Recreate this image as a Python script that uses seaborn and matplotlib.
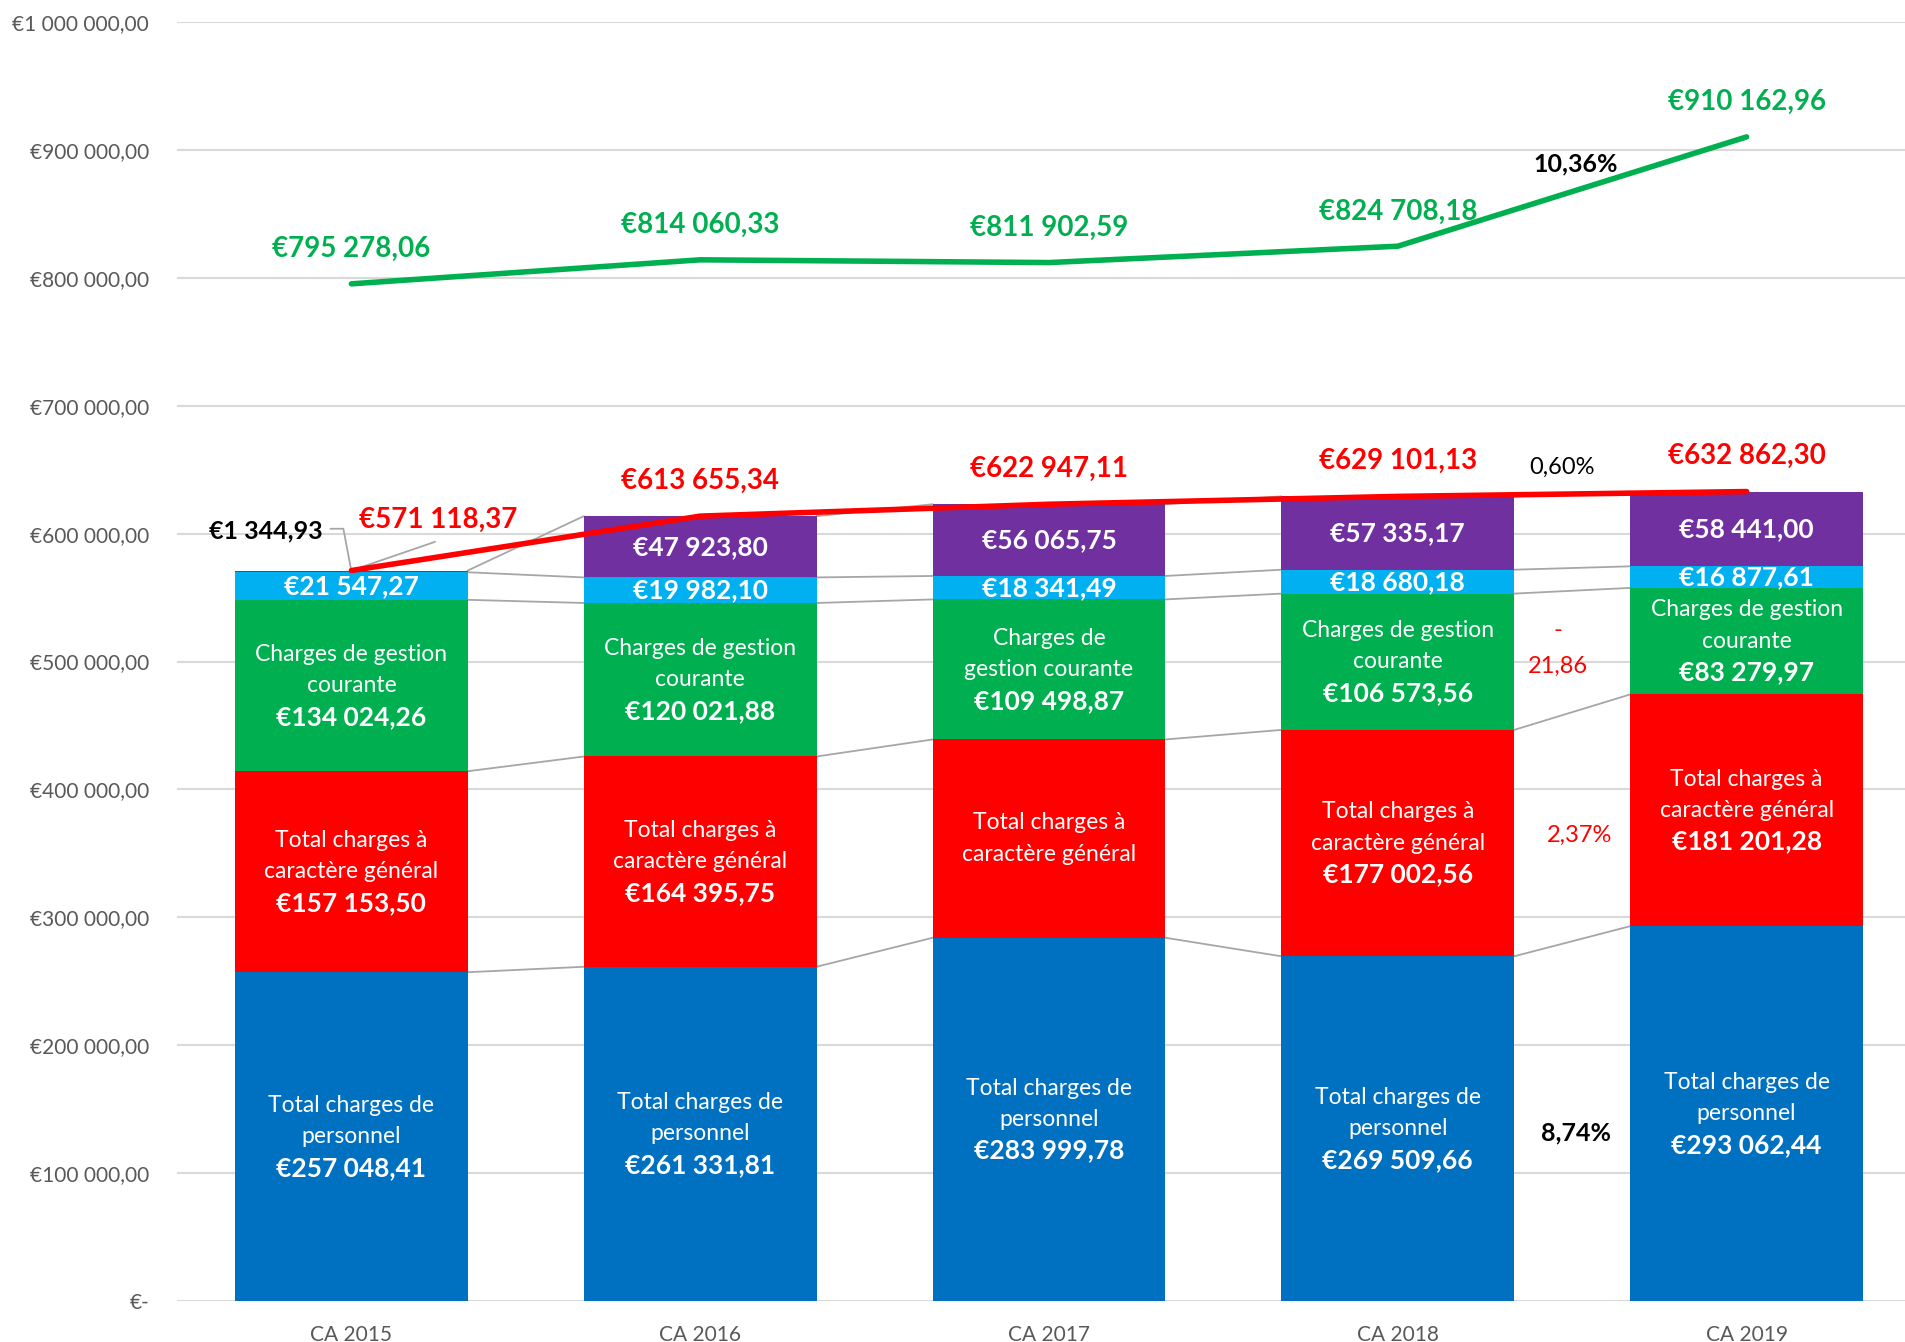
import numpy as np
import matplotlib
matplotlib.use("Agg")
import matplotlib.pyplot as plt
import seaborn as sns

categories = ["CA 2015", "CA 2016", "CA 2017", "CA 2018", "CA 2019"]
personnel = [257048.41, 261331.81, 283999.78, 269509.66, 293062.44]
general = [157153.50, 164395.75, 155041.22, 177002.56, 181201.28]
gestion = [134024.26, 120021.88, 109498.87, 106573.56, 83279.97]
autres = [21547.27, 19982.10, 18341.49, 18680.18, 16877.61]
violet = [1344.93, 47923.80, 56065.75, 57335.17, 58441.00]
totals = [571118.37, 613655.34, 622947.11, 629101.13, 632862.30]
recettes = [795278.06, 814060.33, 811902.59, 824708.18, 910162.96]

ytick_values = [0, 100000, 200000, 300000, 400000, 500000, 600000, 700000, 800000, 900000, 1000000]
ytick_labels = ["€-", "€100 000,00", "€200 000,00", "€300 000,00", "€400 000,00", "€500 000,00",
                "€600 000,00", "€700 000,00", "€800 000,00", "€900 000,00", "€1 000 000,00"]

personnel_text = [["Total charges de", "personnel"]] * 5
general_text = [["Total charges à", "caractère général"]] * 5
gestion_text = [["Charges de gestion", "courante"], ["Charges de gestion", "courante"],
                ["Charges de", "gestion courante"], ["Charges de gestion", "courante"],
                ["Charges de gestion", "courante"]]
show_general_value = [True, True, False, True, True]

pct_revenue = "10,36%"
pct_total = "0,60%"
pct_gestion = ["-", "21,86"]
pct_general = "2,37%"
pct_personnel = "8,74%"

C_BLUE, C_RED, C_GREEN, C_CYAN, C_PURPLE = "#0070C0", "#FF0000", "#00B050", "#00B0F0", "#7030A0"
GRAY_TXT = "#595959"

sns.set_theme(style="white")
plt.rcParams["font.family"] = ["Lato", "DejaVu Sans"]


def eur(v):
    s = f"{v:,.2f}".replace(",", " ").replace(".", ",")
    return "€" + s


fig = plt.figure(figsize=(19.05, 13.42), dpi=100)
ax = fig.add_axes([177 / 1905, 41 / 1342, (1921 - 177) / 1905, (1301 - 22) / 1342])

layers = [personnel, general, gestion, autres, violet]
colors = [C_BLUE, C_RED, C_GREEN, C_CYAN, C_PURPLE]
cum = np.cumsum(np.array(layers), axis=0)
W = 0.667

for k in reversed(range(5)):
    sns.barplot(x=categories, y=cum[k], color=colors[k], width=W, saturation=1,
                errorbar=None, linewidth=0, ax=ax, zorder=2)

# series lines between bars
for k in range(5):
    for i in range(4):
        ax.plot([i + W / 2, i + 1 - W / 2], [cum[k][i], cum[k][i + 1]],
                color="#A6A6A6", lw=1.3, zorder=1.5)

pos = np.arange(len(categories))
sns.lineplot(x=pos, y=recettes, color=C_GREEN, lw=4.0, sort=False, ax=ax, zorder=5,
             solid_capstyle="round")
sns.lineplot(x=pos, y=totals, color=C_RED, lw=4.0, sort=False, ax=ax, zorder=5,
             solid_capstyle="round")

ax.set_xlim(-0.5, 4.5)
ax.set_ylim(0, 1000000)
ax.set_yticks(ytick_values)
ax.set_yticklabels(ytick_labels)
ax.set_xlabel("")
ax.set_ylabel("")
ax.grid(axis="y", color="#D9D9D9", lw=1.5, zorder=0)
ax.grid(axis="x", visible=False)
ax.set_axisbelow(True)
for s in ax.spines.values():
    s.set_visible(False)
ax.tick_params(axis="y", length=0, pad=20, labelsize=15, labelcolor=GRAY_TXT)
ax.tick_params(axis="x", length=0, pad=17.5, labelsize=15, labelcolor=GRAY_TXT)

LS = 22.5  # line spacing in points
FS_REG = 16.5
FS_VAL = 19


def block(x, yc, lines):
    n = len(lines)
    for j, (txt, bold) in enumerate(lines):
        dy = ((n - 1) / 2 - j) * LS
        ax.annotate(txt, (x, yc), xytext=(0, dy), textcoords="offset points",
                    ha="center", va="center", color="white",
                    fontsize=FS_VAL if bold else FS_REG,
                    fontweight="bold" if bold else "normal", zorder=6)


for i in range(5):
    base = [0] + list(cum[:, i])
    yc = (base[0] + base[1]) / 2
    block(i, yc, [(t, False) for t in personnel_text[i]] + [(eur(personnel[i]), True)])
    yc = (base[1] + base[2]) / 2
    lines = [(t, False) for t in general_text[i]]
    if show_general_value[i]:
        lines.append((eur(general[i]), True))
    block(i, yc, lines)
    yc = (base[2] + base[3]) / 2
    block(i, yc, [(t, False) for t in gestion_text[i]] + [(eur(gestion[i]), True)])
    yc = (base[3] + base[4]) / 2
    block(i, yc, [(eur(autres[i]), True)])
    if i > 0:
        yc = (base[4] + base[5]) / 2
        block(i, yc, [(eur(violet[i]), True)])

# line labels
for i in range(5):
    ax.annotate(eur(recettes[i]), (i, recettes[i]), xytext=(0, 25), textcoords="offset points",
                ha="center", va="center", color=C_GREEN, fontsize=20, fontweight="bold", zorder=7)
for i in range(1, 5):
    ax.annotate(eur(totals[i]), (i, totals[i]), xytext=(0, 25.5), textcoords="offset points",
                ha="center", va="center", color=C_RED, fontsize=20, fontweight="bold", zorder=7)

# 2015 total with leader line
ax.plot([0.24, 0], [593600, totals[0]], color="#A6A6A6", lw=1.3, zorder=4)
ax.text(0.25, 611000, eur(totals[0]), ha="center", va="center", color=C_RED,
        fontsize=20, fontweight="bold", zorder=7)
# 2015 violet with leader line
ax.plot([-0.06, -0.023, 0], [603800, 603800, cum[3][0] + violet[0] / 2], color="#A6A6A6", lw=1.3, zorder=4)
ax.text(-0.083, 602000, eur(violet[0]), ha="right", va="center", color="black",
        fontsize=18, fontweight="bold", zorder=7)

# percentage annotations
ax.text(3.51, 889000, pct_revenue, ha="center", va="center", color="black", fontsize=18, fontweight="bold")
ax.text(3.47, 651500, pct_total, ha="center", va="center", color="black", fontsize=17)
ax.text(3.46, 524500, pct_gestion[0], ha="center", va="center", color=C_RED, fontsize=17)
ax.text(3.46, 496000, pct_gestion[1], ha="center", va="center", color=C_RED, fontsize=17)
ax.text(3.52, 364000, pct_general, ha="center", va="center", color=C_RED, fontsize=17)
ax.text(3.51, 131500, pct_personnel, ha="center", va="center", color="black", fontsize=18, fontweight="bold")

fig.savefig("out.png", dpi=100)
